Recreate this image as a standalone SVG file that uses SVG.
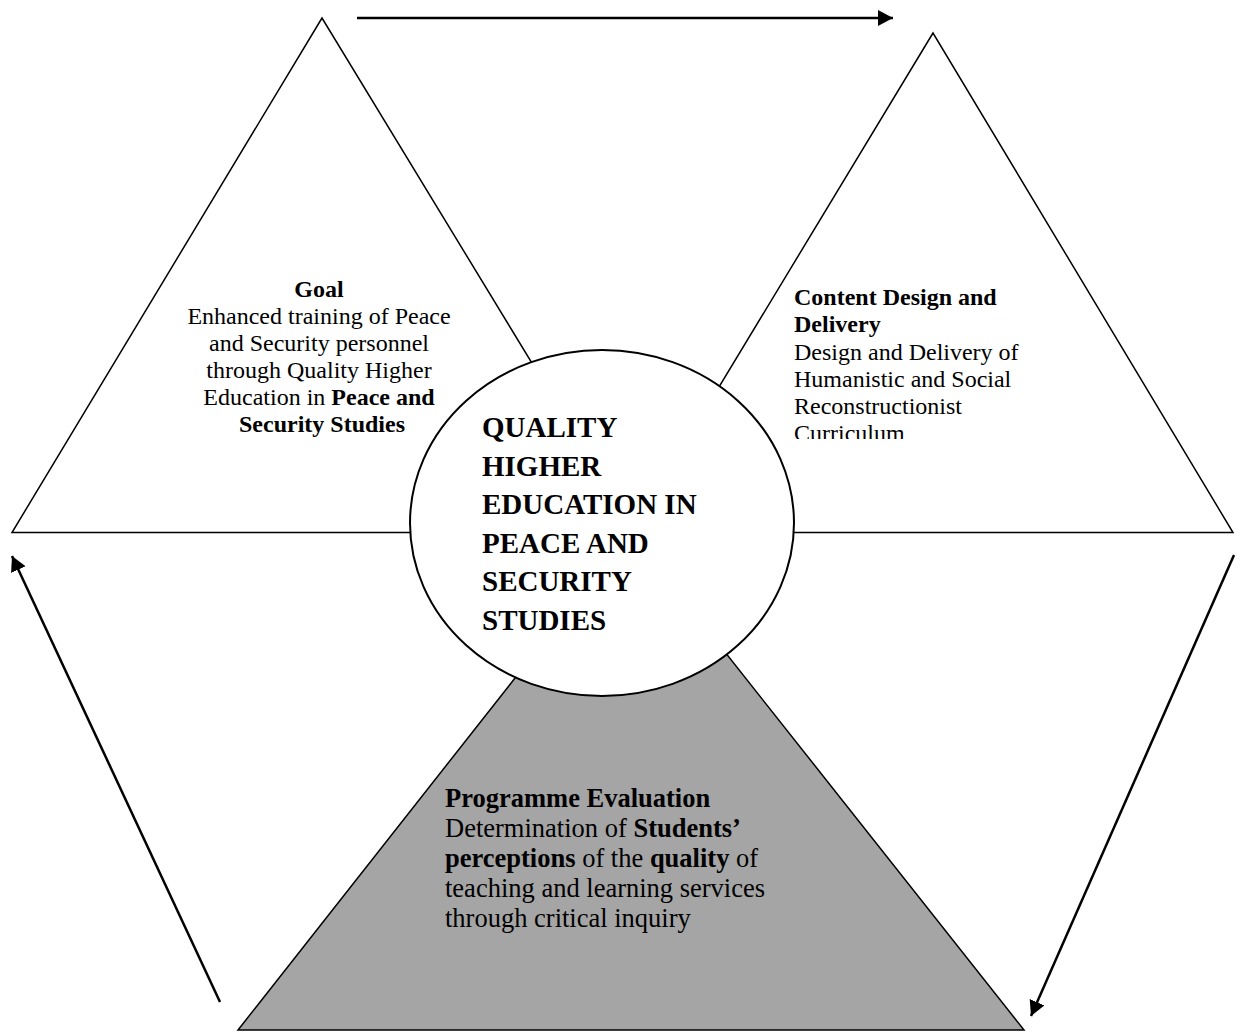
<svg xmlns="http://www.w3.org/2000/svg" width="1240" height="1032" viewBox="0 0 1240 1032">
  <style>
    .shape { stroke: #000; stroke-width: 1.5; stroke-linejoin: miter; }
    .t { font-family: "Liberation Serif", "Times New Roman", serif; fill: #000; }
    .b { font-weight: bold; }
    .conn { stroke: #000; stroke-width: 2.5; fill: none; }
  </style>
  <defs>
    <marker id="arrow" markerUnits="userSpaceOnUse" markerWidth="16" markerHeight="18" refX="15" refY="8" orient="auto">
      <path d="M0,0 L15,8 L0,16 Z" fill="#000"/>
    </marker>
    <clipPath id="clipGoal"><rect x="150" y="260" width="340" height="178"/></clipPath>
    <clipPath id="clipContent"><rect x="780" y="270" width="260" height="169"/></clipPath>
  </defs>
  <rect width="1240" height="1032" fill="#fff"/>

  <g id="node-goal">
    <polygon class="shape" points="322,18 12,532.5 635,532.5" fill="#fff"/>
    <g clip-path="url(#clipGoal)">
      <text class="t" font-size="24" text-anchor="middle">
        <tspan x="322" y="297" class="b">Goal</tspan>
        <tspan x="322" y="324">Enhanced training of Peace</tspan>
        <tspan x="322" y="351">and Security personnel</tspan>
        <tspan x="322" y="378">through Quality Higher</tspan>
        <tspan x="322" y="405">Education in <tspan class="b">Peace and</tspan></tspan>
        <tspan x="322" y="432" class="b">Security Studies</tspan>
      </text>
    </g>
  </g>

  <g id="node-content">
    <polygon class="shape" points="933,33 631,532.5 1233,532.5" fill="#fff"/>
    <g clip-path="url(#clipContent)">
      <text class="t" font-size="24">
        <tspan x="794" y="305" class="b">Content Design and</tspan>
        <tspan x="794" y="332" class="b">Delivery</tspan>
        <tspan x="794" y="360">Design and Delivery of</tspan>
        <tspan x="794" y="387">Humanistic and Social</tspan>
        <tspan x="794" y="414">Reconstructionist</tspan>
        <tspan x="794" y="441">Curriculum</tspan>
      </text>
    </g>
  </g>

  <g id="node-evaluation">
    <polygon class="shape" points="630,532 238,1030 1024,1030" fill="#a5a5a5"/>
    <text class="t" font-size="26.5">
      <tspan x="445" y="807" class="b">Programme Evaluation</tspan>
      <tspan x="445" y="837">Determination of <tspan class="b">Students’</tspan></tspan>
      <tspan x="445" y="867"><tspan class="b">perceptions</tspan> of the <tspan class="b">quality</tspan> of</tspan>
      <tspan x="445" y="897">teaching and learning services</tspan>
      <tspan x="445" y="927">through critical inquiry</tspan>
    </text>
  </g>

  <g id="node-center">
    <ellipse cx="602" cy="523" rx="192" ry="173" fill="#fff" stroke="#000" stroke-width="2"/>
    <text class="t b" font-size="29">
      <tspan x="482" y="437">QUALITY</tspan>
      <tspan x="482" y="475.6">HIGHER</tspan>
      <tspan x="482" y="514.2">EDUCATION IN</tspan>
      <tspan x="482" y="552.8">PEACE AND</tspan>
      <tspan x="482" y="591.4">SECURITY</tspan>
      <tspan x="482" y="630">STUDIES</tspan>
    </text>
  </g>

  <g id="connectors">
    <line class="conn" x1="357" y1="18" x2="893" y2="18" marker-end="url(#arrow)"/>
    <line class="conn" x1="1234" y1="555" x2="1031" y2="1016" marker-end="url(#arrow)"/>
    <line class="conn" x1="220" y1="1002" x2="12" y2="556" marker-end="url(#arrow)"/>
  </g>
</svg>
